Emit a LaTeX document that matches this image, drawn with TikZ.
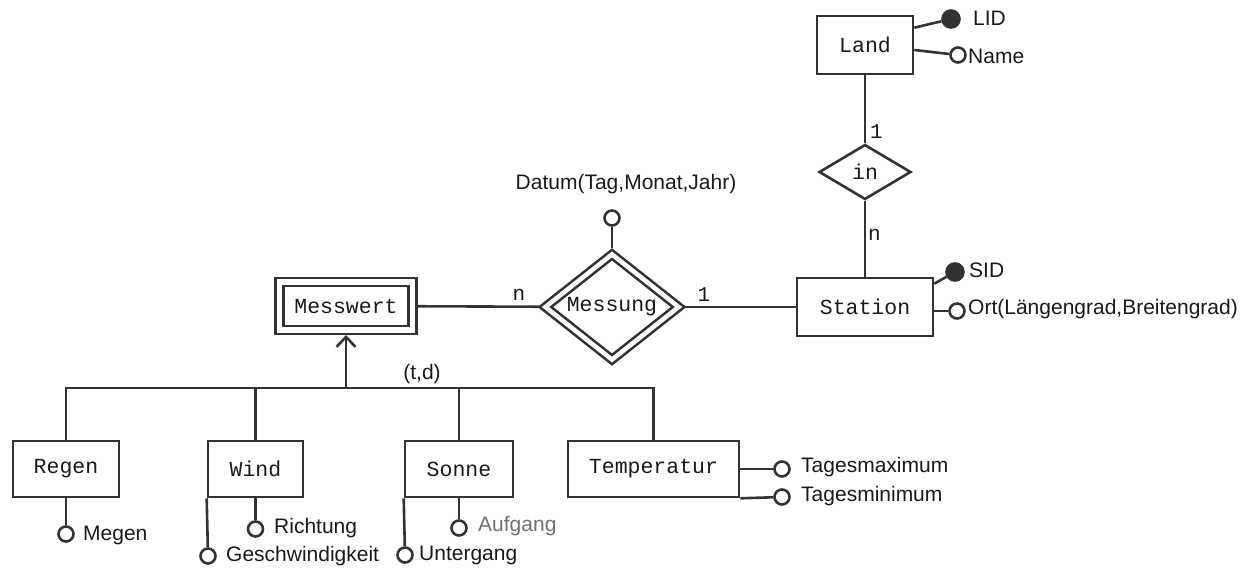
\documentclass[tikz,border=0pt]{standalone}
\usepackage{fontspec}
\setmainfont{Liberation Sans}
\newfontfamily\entfont{Liberation Mono}
\usetikzlibrary{shapes.geometric,arrows.meta,calc}
\definecolor{ln}{HTML}{333333}
\definecolor{tx}{HTML}{1A1A1A}
\definecolor{lightg}{HTML}{707070}
\tikzset{
  ln/.style={draw=ln,line width=2.6pt},
  ent/.style={ln,rectangle,fill=white,inner sep=0pt,font=\entfont\fontsize{21.5}{23}\selectfont,text=tx},
  wentity/.style={ent,double=white,double distance=5.5pt,outer sep=5pt},
  rel/.style={ln,diamond,fill=white,inner sep=0pt,font=\entfont\fontsize{21.5}{23}\selectfont,text=tx},
  wrel/.style={rel,double=white,double distance=4.5pt,outer sep=4.5pt},
  att/.style={ln,circle,fill=white,minimum size=15pt,inner sep=0pt},
  key/.style={ln,circle,fill=ln,minimum size=17pt,inner sep=0pt},
  lbl/.style={anchor=west,inner sep=0pt,font=\fontsize{21}{23}\selectfont,text=tx},
  card/.style={inner sep=0pt,font=\entfont\fontsize{21}{23}\selectfont,text=tx},
  conn/.style={ln},
}
\begin{document}
\begin{tikzpicture}[x=1pt,y=-1pt]
\useasboundingbox (0,0) rectangle (1240,569);
% entities
\node[ent,minimum width=96pt,minimum height=58pt] (land) at (865,45) {Land};
\node[rel,minimum width=92pt,minimum height=55pt] (in) at (865,172) {in};
\node[ent,minimum width=136pt,minimum height=58pt] (station) at (865,307) {Station};
\node[wrel,minimum width=137pt,minimum height=82pt] (messung) at (612,307) {Messung};
\node[wentity,minimum width=133pt,minimum height=48pt] (msw) at (346,306) {Messwert};
\node[ent,minimum width=106pt,minimum height=56pt] (regen) at (66,469) {Regen};
\node[ent,minimum width=95pt,minimum height=56pt] (wind) at (255.5,469) {Wind};
\node[ent,minimum width=108pt,minimum height=56pt] (sonne) at (459,469) {Sonne};
\node[ent,minimum width=171pt,minimum height=56pt] (temp) at (653.5,469) {Temperatur};
% attributes: Land
\node[key] (lid) at (951,19) {};
\node[att] (name) at (958,55) {};
\node[lbl] (lidt) at (973,18) {LID};
\node[lbl] (namet) at (968,56) {Name};
\draw[conn] ([yshift=-13pt]land.north east) -- (lid);
\draw[conn] ([yshift=-5pt]land.east) -- (name);
% Land - in - Station
\draw[conn] (land) -- (in);
\draw[conn] (in) -- (station);
\node[card,anchor=west] (c1) at (870,132) {1};
\node[card,anchor=west] (cn) at (868,235) {n};
% Station attributes
\node[key] (sid) at (955,272) {};
\node[att] (ort) at (957,311) {};
\node[lbl] (sidt) at (969,270) {SID};
\node[lbl] (ortt) at (968,309) {Ort(Längengrad,Breitengrad)};
\draw[conn] ([yshift=-7pt]station.north east) -- (sid);
\draw[conn] ([yshift=-4pt]station.east) -- (ort);
% Messung
\draw[conn] (msw) -- (messung);
\draw[conn] (messung) -- (station);
\node[card] (c2) at (519,295) {n};
\node[card] (c3) at (704,295) {1};
\node[att] (datum) at (612,218) {};
\draw[conn] (datum) -- (messung.north);
\node[lbl,anchor=center] (datumt) at (626,184) {Datum(Tag,Monat,Jahr)};
% generalisation
\coordinate (busL) at (66,388);
\coordinate (arr) at (346,388);
\draw[conn] (regen.north) -- (regen.north |- busL) -- (temp.north |- busL) -- (temp.north);
\draw[conn] (wind.north) -- (wind.north |- busL);
\draw[conn] (sonne.north) -- (sonne.north |- busL);
\draw[conn,-{Straight Barb[length=10pt,width=19pt,line width=2.6pt]}] (arr) -- (msw.south);
\node[lbl,anchor=center] (td) at (422,374) {(t,d)};
% Regen
\node[att] (megen) at (66,534) {};
\draw[conn] (regen.south) -- (megen);
\node[lbl] (megent) at (83,535) {Megen};
% Wind
\node[att] (richt) at (255.5,529) {};
\draw[conn] (wind.south) -- (richt);
\node[lbl] (richtt) at (274,528) {Richtung};
\node[att] (gesch) at (208,556) {};
\draw[conn] (wind.south west) -- (gesch);
\node[lbl] (gescht) at (226,556) {Geschwindigkeit};
% Sonne
\node[att] (aufg) at (459,528) {};
\draw[conn] (sonne.south) -- (aufg);
\node[lbl,text=lightg] (aufgt) at (478,526) {Aufgang};
\node[att] (unterg) at (405,555) {};
\draw[conn] (sonne.south west) -- (unterg);
\node[lbl] (untergt) at (419,555) {Untergang};
% Temperatur
\node[att] (tmax) at (782,469) {};
\draw[conn] (temp.east) -- (tmax);
\node[lbl] (tmaxt) at (801,467) {Tagesmaximum};
\node[att] (tmin) at (782,497) {};
\draw[conn] (temp.south east) -- (tmin);
\node[lbl] (tmint) at (801,496) {Tagesminimum};
\end{tikzpicture}
\end{document}
